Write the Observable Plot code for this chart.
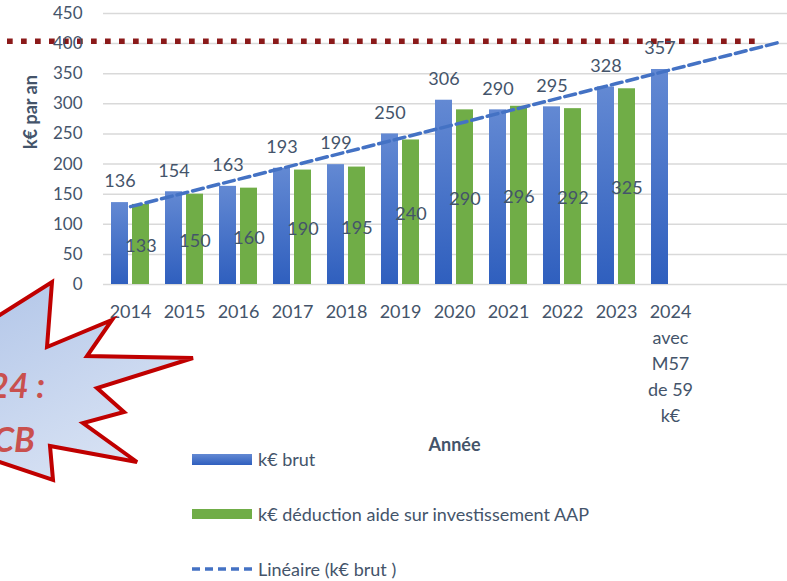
<!DOCTYPE html>
<html>
<head>
<meta charset="utf-8">
<script src="https://cdn.jsdelivr.net/npm/d3@7"></script>
<script src="https://cdn.jsdelivr.net/npm/@observablehq/plot@0.6"></script>
<style>
  html, body { margin: 0; padding: 0; background: #fff; overflow: hidden; }
  #wrap { position: relative; width: 787px; height: 581px; overflow: hidden; font-family: Lato, "Open Sans", sans-serif; color: #44546A; }
  #chart { position: absolute; left: 0; top: 0; }
  .leg { position: absolute; left: 192px; height: 24px; display: flex; align-items: center; font-size: 18px; white-space: nowrap; }
  .sw { width: 60px; margin-right: 6px; }
  #burst { position: absolute; left: 0; top: 0; pointer-events: none; }
</style>
</head>
<body>
<div id="wrap">
  <div id="chart"></div>
  <div class="leg" style="top:447px"><div class="sw" style="height:11px;background:linear-gradient(#6389d3,#2f5fbe)"></div>k€ brut</div>
  <div class="leg" style="top:502px"><div class="sw" style="height:10px;background:#70AD47"></div>k€ déduction aide sur investissement AAP</div>
  <div class="leg" style="top:557px"><svg class="sw" width="60" height="6" style="overflow:visible"><line x1="0" y1="3" x2="60" y2="3" stroke="#4472C4" stroke-width="3.5" stroke-dasharray="8,5"/></svg>Linéaire (k€ brut )</div>
  <svg id="burst" width="787" height="581">
    <defs>
      <linearGradient id="burstGrad" x1="0" y1="0" x2="0.6" y2="1">
        <stop offset="0%" stop-color="#b1c5e8"/>
        <stop offset="100%" stop-color="#d9e3f4"/>
      </linearGradient>
    </defs>
    <polygon points="-30,334 52,282 47,347 112,320 87,356 193,358 97,388 124,412 83,423 137,462 50,446 53,480 -30,452"
      fill="url(#burstGrad)" stroke="#C00000" stroke-width="4" stroke-linejoin="miter"/>
    <text x="45" y="398" text-anchor="end" font-family="Lato" font-weight="bold" font-style="italic" font-size="34" fill="#C9504E">24 :</text>
    <text x="35" y="452" text-anchor="end" font-family="Lato" font-weight="bold" font-style="italic" font-size="34" fill="#C9504E">CB</text>
  </svg>
</div>
<script>
// ---- data ----
const years = ["2014","2015","2016","2017","2018","2019","2020","2021","2022","2023","2024"];
const brut = [136,154,163,193,199,250,306,290,295,328,357];
const deduction = [133,150,160,190,195,240,290,296,292,325,null];
const tickLabels = ["2014","2015","2016","2017","2018","2019","2020","2021","2022","2023","2024\navec\nM57\nde 59\nk€"];
const forecastSlots = ["f1","f2"]; // trendline forward 2 periods
const yTicks = [0,50,100,150,200,250,300,350,400,450];
const limitValue = 404;

// ---- tables ----
const rows = years.map((y, i) => ({year: y, brut: brut[i], ded: deduction[i]}));
const slots = years.concat(forecastSlots);
// Excel linear trendline on k€ brut (least squares), extended 2 periods
const mx = d3.mean(brut, (_, i) => i);
const my = d3.mean(brut);
const slope = d3.sum(brut, (v, i) => (i - mx) * (v - my)) / d3.sum(brut, (_, i) => (i - mx) ** 2);
const trend = slots.map((s, i) => ({slot: s, v: my + slope * (i - mx)}));
const labelOf = new Map(years.map((y, i) => [y, tickLabels[i]]));

const chart = Plot.plot({
  width: 787,
  height: 581,
  marginTop: 13,
  marginBottom: 297,
  marginLeft: 103,
  marginRight: 0,
  style: {fontFamily: "Lato, 'Open Sans', sans-serif", color: "#44546A", background: "transparent", overflow: "visible"},
  x: {type: "band", domain: slots, range: [103, 805], padding: 0},
  y: {domain: [0, 450]},
  marks: [
    Plot.gridY(yTicks, {stroke: "#d9d9d9", strokeOpacity: 1, strokeWidth: 1.5}),
    Plot.ruleY([limitValue], {stroke: "#8B1A1A", strokeWidth: 5.5, strokeDasharray: "5.7,8.3", strokeDashoffset: 7, insetLeft: -103, insetRight: 31}),
    Plot.barY(rows, {x: "year", y: "brut", fill: "url(#blueGrad)", insetLeft: 8, insetRight: 29}),
    Plot.barY(rows.filter(d => d.ded != null), {x: "year", y: "ded", fill: "#70AD47", insetLeft: 29, insetRight: 8}),
    Plot.line(trend, {x: "slot", y: "v", stroke: "#4472C4", strokeWidth: 3.5, strokeDasharray: "11,5"}),
    Plot.text(rows, {x: "year", y: "brut", text: d => String(d.brut), dx: -10.5, dy: -21, fontSize: 18, fill: "#44546A"}),
    Plot.text(rows.filter(d => d.ded != null), {x: "year", y: d => d.ded / 2, text: d => String(d.ded), dx: 10.5, dy: 2, fontSize: 18, fill: "#44546A"}),
    Plot.axisY(yTicks, {tickSize: 0, tickPadding: 21, fontSize: 17, label: null}),
    Plot.axisX({tickSize: 0, tickPadding: 15, fontSize: 18, lineHeight: 1.44, label: null, tickFormat: d => labelOf.get(d) ?? ""}),
    Plot.text(["k€ par an"], {frameAnchor: "left", rotate: -90, dx: -72, fontSize: 18, fontWeight: "bold", fill: "#44546A"}),
    Plot.text(["Année"], {frameAnchor: "bottom", dx: 9, dy: 166, fontSize: 18, fontWeight: "bold", fill: "#44546A"})
  ]
});

const defs = d3.select(chart).insert("defs", ":first-child");
const g = defs.append("linearGradient").attr("id", "blueGrad").attr("x1", 0).attr("y1", 0).attr("x2", 0).attr("y2", 1);
g.append("stop").attr("offset", "0%").attr("stop-color", "#6389d3");
g.append("stop").attr("offset", "100%").attr("stop-color", "#2f5fbe");

document.getElementById("chart").appendChild(chart);
</script>
</body>
</html>
